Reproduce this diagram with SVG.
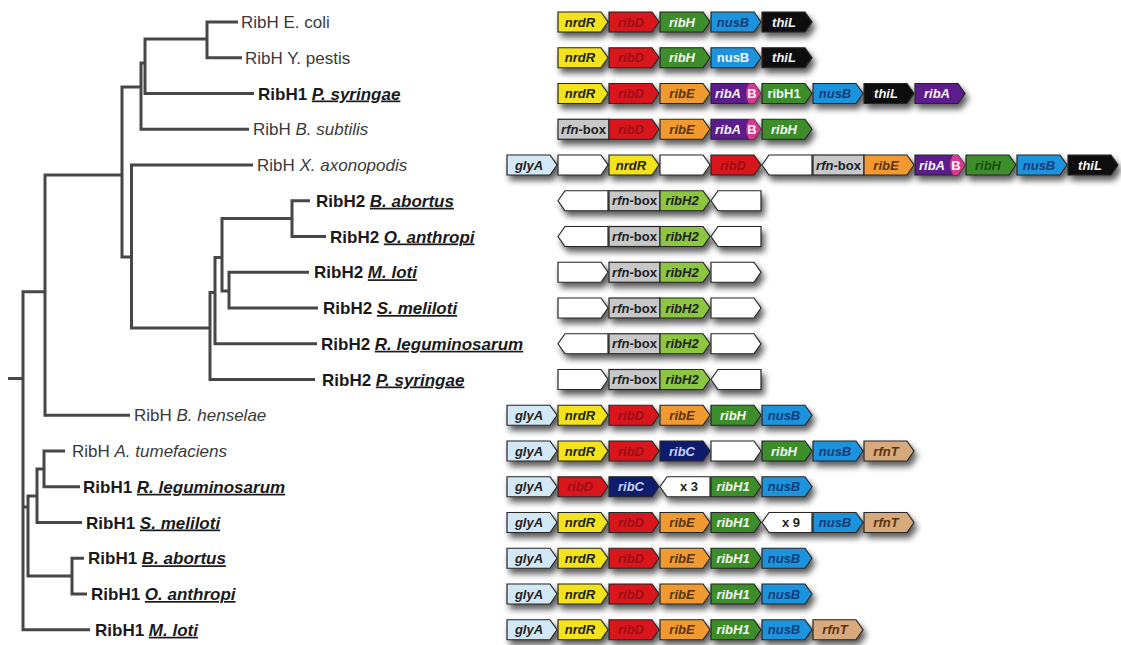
<svg xmlns="http://www.w3.org/2000/svg" xmlns:xlink="http://www.w3.org/1999/xlink" width="1121" height="645" viewBox="0 0 1121 645">
<style>
.lab{font-family:"Liberation Sans",Arial,sans-serif;font-size:17px;fill:#3a3a3a}
.labb{font-family:"Liberation Sans",Arial,sans-serif;font-size:17px;font-weight:bold;fill:#1a1a1a}
.sp{font-style:italic}
.spu{font-style:italic;text-decoration:underline}
.tree path{fill:none;stroke:#474747;stroke-width:3;stroke-linejoin:miter}
.g{stroke:#262626;stroke-width:1.2;stroke-linejoin:miter}
.yel{fill:#f3e21c}.red{fill:#d8161c}.grn{fill:#3c8d2b}.blu{fill:#1f93dd}.blk{fill:#111}
.org{fill:#f19a30}.pur{fill:#5b1d8c}.pnk{fill:#d9398c}.gry{fill:#c8c8c8}.lbl{fill:#d3e8f6}
.nav{fill:#0e1a6c}.lim{fill:#8dc641}.tan{fill:#d7a97c}.wht{fill:#fff}
.t{font-family:"Liberation Sans",Arial,sans-serif;font-size:13px;font-weight:bold;font-style:italic;text-anchor:middle}
.n{font-style:normal}
.td{fill:#222}.tw{fill:#f4f4f4}.tr{fill:#9c0f16}.tn{fill:#173d78}.tb{fill:#5a3410}.tg{fill:#1d4d14}.tc{fill:#c9d2ff}
</style>
<defs>
<polygon id="R" points="0,-10 43,-10 50,0 43,10 0,10"/>
<polygon id="L" points="0,0 7,-10 50,-10 50,10 7,10"/>
<rect id="B" x="0" y="-10" width="51" height="20"/>
<path id="P" d="M38,-10 L43,-10 L50,0 L43,10 L38,10 Q32,0 38,-10 Z"/>
<filter id="sh" filterUnits="userSpaceOnUse" x="0" y="0" width="1121" height="645">
<feGaussianBlur in="SourceAlpha" stdDeviation="3"/>
<feOffset dx="3" dy="5" result="b"/>
<feComponentTransfer in="b" result="s"><feFuncA type="linear" slope="0.65"/></feComponentTransfer>
<feMerge><feMergeNode in="s"/><feMergeNode in="SourceGraphic"/></feMerge>
</filter>
</defs>
<rect width="1121" height="645" fill="#fff"/>

<g id="connectors" class="tree">
<path d="M8,378.5 H23"/>
<path d="M90,629.75 H23 V291.7 H45"/>
<path d="M122,175 H45 V415.25 H130"/>
<path d="M141,87 H122 V257 H131.5"/>
<path d="M145,63 H141 V129.25 H249"/>
<path d="M207,39 H145 V93.5 H254"/>
<path d="M238,22 H207 V57.75 H242"/>
<path d="M253,165 H131.5 V328 H210"/>
<path d="M215,292.6 H210 V379.5 H315"/>
<path d="M222,257.5 H215 V343.75 H317"/>
<path d="M292,218.5 H222 V291 H229"/>
<path d="M310,200.75 H292 V236.5 H326"/>
<path d="M309,272.25 H229 V308 H318"/>
<path d="M23,507 H28"/>
<path d="M37,496 H28 V576 H72"/>
<path d="M44,469 H37 V522.5 H82"/>
<path d="M65,451 H44 V486.75 H80"/>
<path d="M84,558.25 H72 V594 H87"/>
</g>

<g id="leaves">
<g id="leaf1"><text x="241" y="28" class="lab">RibH E. coli</text></g>
<g id="leaf2"><text x="245" y="63.75" class="lab">RibH Y. pestis</text></g>
<g id="leaf3"><text x="258" y="99.5" class="labb">RibH1 <tspan class="spu">P. syringae</tspan></text></g>
<g id="leaf4"><text x="253" y="135.25" class="lab">RibH <tspan class="sp">B. subtilis</tspan></text></g>
<g id="leaf5"><text x="257" y="171" class="lab">RibH <tspan class="sp">X. axonopodis</tspan></text></g>
<g id="leaf6"><text x="316" y="206.75" class="labb">RibH2 <tspan class="spu">B. abortus</tspan></text></g>
<g id="leaf7"><text x="330" y="242.5" class="labb">RibH2 <tspan class="spu">O. anthropi</tspan></text></g>
<g id="leaf8"><text x="314" y="278.25" class="labb">RibH2 <tspan class="spu">M. loti</tspan></text></g>
<g id="leaf9"><text x="323" y="314" class="labb">RibH2 <tspan class="spu">S. meliloti</tspan></text></g>
<g id="leaf10"><text x="321" y="349.75" class="labb">RibH2 <tspan class="spu">R. leguminosarum</tspan></text></g>
<g id="leaf11"><text x="322" y="385.5" class="labb">RibH2 <tspan class="spu">P. syringae</tspan></text></g>
<g id="leaf12"><text x="134" y="421.25" class="lab">RibH <tspan class="sp">B. henselae</tspan></text></g>
<g id="leaf13"><text x="72" y="457" class="lab">RibH <tspan class="sp">A. tumefaciens</tspan></text></g>
<g id="leaf14"><text x="83" y="492.75" class="labb">RibH1 <tspan class="spu">R. leguminosarum</tspan></text></g>
<g id="leaf15"><text x="86" y="528.5" class="labb">RibH1 <tspan class="spu">S. meliloti</tspan></text></g>
<g id="leaf16"><text x="88" y="564.25" class="labb">RibH1 <tspan class="spu">B. abortus</tspan></text></g>
<g id="leaf17"><text x="91" y="600" class="labb">RibH1 <tspan class="spu">O. anthropi</tspan></text></g>
<g id="leaf18"><text x="95" y="635.75" class="labb">RibH1 <tspan class="spu">M. loti</tspan></text></g>
</g>

<g id="operon1">
<g filter="url(#sh)">
<use href="#R" x="558" y="22" class="g yel"/><use href="#R" x="609" y="22" class="g red"/><use href="#R" x="660" y="22" class="g grn"/><use href="#R" x="711" y="22" class="g blu"/><use href="#R" x="762" y="22" class="g blk"/>
</g>
<text x="580" y="26.5" class="t td">nrdR</text><text x="631" y="26.5" class="t tr">ribD</text><text x="682" y="26.5" class="t tw">ribH</text><text x="733" y="26.5" class="t tn">nusB</text><text x="784" y="26.5" class="t tw">thiL</text>
</g>

<g id="operon2">
<g filter="url(#sh)">
<use href="#R" x="558" y="57.75" class="g yel"/><use href="#R" x="609" y="57.75" class="g red"/><use href="#R" x="660" y="57.75" class="g grn"/><use href="#R" x="711" y="57.75" class="g blu"/><use href="#R" x="762" y="57.75" class="g blk"/>
</g>
<text x="580" y="62.25" class="t td">nrdR</text><text x="631" y="62.25" class="t tr">ribD</text><text x="682" y="62.25" class="t tw">ribH</text><text x="733" y="62.25" class="t tw n">nusB</text><text x="784" y="62.25" class="t tw">thiL</text>
</g>

<g id="operon3">
<g filter="url(#sh)">
<use href="#R" x="558" y="93.5" class="g yel"/><use href="#R" x="609" y="93.5" class="g red"/><use href="#R" x="660" y="93.5" class="g org"/><use href="#R" x="711" y="93.5" class="g pur"/><use href="#P" x="711" y="93.5" class="pnk"/><use href="#R" x="762" y="93.5" class="g grn"/><use href="#R" x="813" y="93.5" class="g blu"/><use href="#R" x="864" y="93.5" class="g blk"/><use href="#R" x="915" y="93.5" class="g pur"/>
</g>
<text x="728" y="98" class="t tw">ribA</text><text x="752" y="98" class="t tw n">B</text>
<text x="580" y="98" class="t td">nrdR</text><text x="631" y="98" class="t tr">ribD</text><text x="682" y="98" class="t tb">ribE</text><text x="784" y="98" class="t tw n">ribH1</text><text x="835" y="98" class="t tn">nusB</text><text x="886" y="98" class="t tw">thiL</text><text x="937" y="98" class="t tw">ribA</text>
</g>

<g id="operon4">
<g filter="url(#sh)">
<use href="#B" x="558" y="129.25" class="g gry"/><use href="#R" x="609" y="129.25" class="g red"/><use href="#R" x="660" y="129.25" class="g org"/><use href="#R" x="711" y="129.25" class="g pur"/><use href="#P" x="711" y="129.25" class="pnk"/><use href="#R" x="762" y="129.25" class="g grn"/>
</g>
<text x="583.5" y="133.75" class="t td n"><tspan class="sp">rfn</tspan>-box</text><text x="631" y="133.75" class="t tr">ribD</text><text x="682" y="133.75" class="t tb">ribE</text><text x="728" y="133.75" class="t tw">ribA</text><text x="752" y="133.75" class="t tw n">B</text><text x="784" y="133.75" class="t tw">ribH</text>
</g>

<g id="operon5">
<g filter="url(#sh)">
<use href="#R" x="507" y="165" class="g lbl"/><use href="#R" x="558" y="165" class="g wht"/><use href="#R" x="609" y="165" class="g yel"/><use href="#R" x="660" y="165" class="g wht"/><use href="#R" x="711" y="165" class="g red"/><use href="#L" x="762" y="165" class="g wht"/><use href="#B" x="813" y="165" class="g gry"/><use href="#R" x="864" y="165" class="g org"/><use href="#R" x="915" y="165" class="g pur"/><use href="#P" x="915" y="165" class="pnk"/><use href="#R" x="966" y="165" class="g grn"/><use href="#R" x="1017" y="165" class="g blu"/><use href="#R" x="1068" y="165" class="g blk"/>
</g>
<text x="529" y="169.5" class="t td">glyA</text><text x="631" y="169.5" class="t td">nrdR</text><text x="733" y="169.5" class="t tr">ribD</text><text x="838.5" y="169.5" class="t td n"><tspan class="sp">rfn</tspan>-box</text><text x="886" y="169.5" class="t tb">ribE</text><text x="932" y="169.5" class="t tw">ribA</text><text x="956" y="169.5" class="t tw n">B</text><text x="988" y="169.5" class="t tg">ribH</text><text x="1039" y="169.5" class="t tn">nusB</text><text x="1090" y="169.5" class="t tw">thiL</text>
</g>

<g id="operon6">
<g filter="url(#sh)">
<use href="#L" x="558" y="200.75" class="g wht"/><use href="#B" x="609" y="200.75" class="g gry"/><use href="#R" x="660" y="200.75" class="g lim"/><use href="#L" x="711" y="200.75" class="g wht"/>
</g>
<text x="634.5" y="205.25" class="t td n"><tspan class="sp">rfn</tspan>-box</text><text x="682" y="205.25" class="t td">ribH2</text>
</g>
<g id="operon7">
<g filter="url(#sh)">
<use href="#L" x="558" y="236.5" class="g wht"/><use href="#B" x="609" y="236.5" class="g gry"/><use href="#R" x="660" y="236.5" class="g lim"/><use href="#L" x="711" y="236.5" class="g wht"/>
</g>
<text x="634.5" y="241" class="t td n"><tspan class="sp">rfn</tspan>-box</text><text x="682" y="241" class="t td">ribH2</text>
</g>
<g id="operon8">
<g filter="url(#sh)">
<use href="#R" x="558" y="272.25" class="g wht"/><use href="#B" x="609" y="272.25" class="g gry"/><use href="#R" x="660" y="272.25" class="g lim"/><use href="#R" x="711" y="272.25" class="g wht"/>
</g>
<text x="634.5" y="276.75" class="t td n"><tspan class="sp">rfn</tspan>-box</text><text x="682" y="276.75" class="t td">ribH2</text>
</g>
<g id="operon9">
<g filter="url(#sh)">
<use href="#R" x="558" y="308" class="g wht"/><use href="#B" x="609" y="308" class="g gry"/><use href="#R" x="660" y="308" class="g lim"/><use href="#R" x="711" y="308" class="g wht"/>
</g>
<text x="634.5" y="312.5" class="t td n"><tspan class="sp">rfn</tspan>-box</text><text x="682" y="312.5" class="t td">ribH2</text>
</g>
<g id="operon10">
<g filter="url(#sh)">
<use href="#L" x="558" y="343.75" class="g wht"/><use href="#B" x="609" y="343.75" class="g gry"/><use href="#R" x="660" y="343.75" class="g lim"/><use href="#R" x="711" y="343.75" class="g wht"/>
</g>
<text x="634.5" y="348.25" class="t td n"><tspan class="sp">rfn</tspan>-box</text><text x="682" y="348.25" class="t td">ribH2</text>
</g>
<g id="operon11">
<g filter="url(#sh)">
<use href="#R" x="558" y="379.5" class="g wht"/><use href="#B" x="609" y="379.5" class="g gry"/><use href="#R" x="660" y="379.5" class="g lim"/><use href="#L" x="711" y="379.5" class="g wht"/>
</g>
<text x="634.5" y="384" class="t td n"><tspan class="sp">rfn</tspan>-box</text><text x="682" y="384" class="t td">ribH2</text>
</g>

<g id="operon12">
<g filter="url(#sh)">
<use href="#R" x="507" y="415.25" class="g lbl"/><use href="#R" x="558" y="415.25" class="g yel"/><use href="#R" x="609" y="415.25" class="g red"/><use href="#R" x="660" y="415.25" class="g org"/><use href="#R" x="711" y="415.25" class="g grn"/><use href="#R" x="762" y="415.25" class="g blu"/>
</g>
<text x="529" y="419.75" class="t td">glyA</text><text x="580" y="419.75" class="t td">nrdR</text><text x="631" y="419.75" class="t tr">ribD</text><text x="682" y="419.75" class="t tb">ribE</text><text x="733" y="419.75" class="t tw">ribH</text><text x="784" y="419.75" class="t tn">nusB</text>
</g>

<g id="operon13">
<g filter="url(#sh)">
<use href="#R" x="507" y="451" class="g lbl"/><use href="#R" x="558" y="451" class="g yel"/><use href="#R" x="609" y="451" class="g red"/><use href="#R" x="660" y="451" class="g nav"/><use href="#R" x="711" y="451" class="g wht"/><use href="#R" x="762" y="451" class="g grn"/><use href="#R" x="813" y="451" class="g blu"/><use href="#R" x="864" y="451" class="g tan"/>
</g>
<text x="529" y="455.5" class="t td">glyA</text><text x="580" y="455.5" class="t td">nrdR</text><text x="631" y="455.5" class="t tr">ribD</text><text x="682" y="455.5" class="t tc">ribC</text><text x="784" y="455.5" class="t tw">ribH</text><text x="835" y="455.5" class="t tn">nusB</text><text x="886" y="455.5" class="t tb">rfnT</text>
</g>

<g id="operon14">
<g filter="url(#sh)">
<use href="#R" x="507" y="486.75" class="g lbl"/><use href="#R" x="558" y="486.75" class="g red"/><use href="#R" x="609" y="486.75" class="g nav"/><use href="#L" x="660" y="486.75" class="g wht"/><use href="#R" x="711" y="486.75" class="g grn"/><use href="#R" x="762" y="486.75" class="g blu"/>
</g>
<text x="529" y="491.25" class="t td">glyA</text><text x="580" y="491.25" class="t tr">ribD</text><text x="631" y="491.25" class="t tc">ribC</text><text x="689" y="491.25" class="t td n">x 3</text><text x="733" y="491.25" class="t tw">ribH1</text><text x="784" y="491.25" class="t tn">nusB</text>
</g>

<g id="operon15">
<g filter="url(#sh)">
<use href="#R" x="507" y="522.5" class="g lbl"/><use href="#R" x="558" y="522.5" class="g yel"/><use href="#R" x="609" y="522.5" class="g red"/><use href="#R" x="660" y="522.5" class="g org"/><use href="#R" x="711" y="522.5" class="g grn"/><use href="#L" x="762" y="522.5" class="g wht"/><use href="#R" x="813" y="522.5" class="g blu"/><use href="#R" x="864" y="522.5" class="g tan"/>
</g>
<text x="529" y="527" class="t td">glyA</text><text x="580" y="527" class="t td">nrdR</text><text x="631" y="527" class="t tr">ribD</text><text x="682" y="527" class="t tb">ribE</text><text x="733" y="527" class="t tw">ribH1</text><text x="791" y="527" class="t td n">x 9</text><text x="835" y="527" class="t tn">nusB</text><text x="886" y="527" class="t tb">rfnT</text>
</g>

<g id="operon16">
<g filter="url(#sh)">
<use href="#R" x="507" y="558.25" class="g lbl"/><use href="#R" x="558" y="558.25" class="g yel"/><use href="#R" x="609" y="558.25" class="g red"/><use href="#R" x="660" y="558.25" class="g org"/><use href="#R" x="711" y="558.25" class="g grn"/><use href="#R" x="762" y="558.25" class="g blu"/>
</g>
<text x="529" y="562.75" class="t td">glyA</text><text x="580" y="562.75" class="t td">nrdR</text><text x="631" y="562.75" class="t tr">ribD</text><text x="682" y="562.75" class="t tb">ribE</text><text x="733" y="562.75" class="t tw">ribH1</text><text x="784" y="562.75" class="t tn">nusB</text>
</g>

<g id="operon17">
<g filter="url(#sh)">
<use href="#R" x="507" y="594" class="g lbl"/><use href="#R" x="558" y="594" class="g yel"/><use href="#R" x="609" y="594" class="g red"/><use href="#R" x="660" y="594" class="g org"/><use href="#R" x="711" y="594" class="g grn"/><use href="#R" x="762" y="594" class="g blu"/>
</g>
<text x="529" y="598.5" class="t td">glyA</text><text x="580" y="598.5" class="t td">nrdR</text><text x="631" y="598.5" class="t tr">ribD</text><text x="682" y="598.5" class="t tb">ribE</text><text x="733" y="598.5" class="t tw">ribH1</text><text x="784" y="598.5" class="t tn">nusB</text>
</g>

<g id="operon18">
<g filter="url(#sh)">
<use href="#R" x="507" y="629.75" class="g lbl"/><use href="#R" x="558" y="629.75" class="g yel"/><use href="#R" x="609" y="629.75" class="g red"/><use href="#R" x="660" y="629.75" class="g org"/><use href="#R" x="711" y="629.75" class="g grn"/><use href="#R" x="762" y="629.75" class="g blu"/><use href="#R" x="813" y="629.75" class="g tan"/>
</g>
<text x="529" y="634.25" class="t td">glyA</text><text x="580" y="634.25" class="t td">nrdR</text><text x="631" y="634.25" class="t tr">ribD</text><text x="682" y="634.25" class="t tb">ribE</text><text x="733" y="634.25" class="t tw">ribH1</text><text x="784" y="634.25" class="t tn">nusB</text><text x="835" y="634.25" class="t tb">rfnT</text>
</g>
</svg>
